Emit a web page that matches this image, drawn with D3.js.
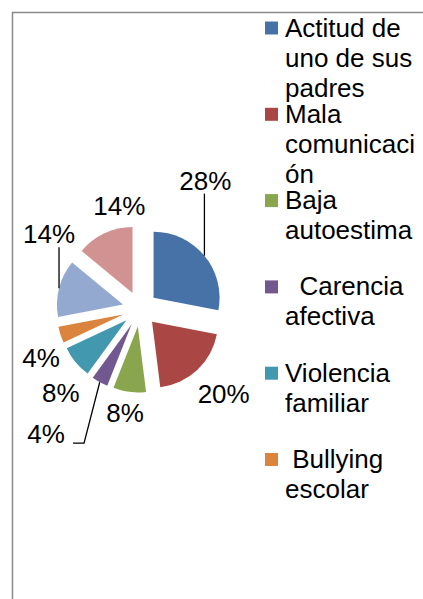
<!DOCTYPE html>
<html>
<head>
<meta charset="utf-8" />
<title>Causas</title>
<style>
body { margin: 0; background: #fff; }
text { font-family: "Liberation Sans", Arial, sans-serif; font-size: 26px; fill: #000; }
.leader { fill: none; stroke: #000; stroke-width: 1.3px; }
</style>
</head>
<body>
<script src="https://cdn.jsdelivr.net/npm/d3@7"></script>
<script>
// data
var categories = ["Actitud de uno de sus padres", "Mala comunicación", "Baja autoestima",
                  "Carencia afectiva", "Violencia familiar", "Bullying escolar", "Otros 1", "Otros 2"];
var values = [28, 20, 8, 4, 8, 4, 14, 14];
var labels = ["28%", "20%", "8%", "4%", "8%", "4%", "14%", "14%"];
var colors = ["#4672a8", "#aa4643", "#89a54e", "#71588f", "#4198af", "#db843d", "#93a9cf", "#d19392"];
// legend text as wrapped in the picture (only six entries fit)
var legendLines = [
    ["Actitud de", "uno de sus", "padres"],
    ["Mala", "comunicaci", "ón"],
    ["Baja", "autoestima"],
    ["  Carencia", "afectiva"],
    ["Violencia", "familiar"],
    [" Bullying", "escolar"]
];

var width = 423, height = 599;
var cx = 140, cy = 309, radius = 66, explode = 17.6, labelR = 112;

var svg = d3.select("body").append("svg")
    .attr("width", width)
    .attr("height", height);

// chart area border (right and bottom fall outside the picture)
svg.append("rect")
    .attr("x", 12.5).attr("y", 12.5)
    .attr("width", 440).attr("height", 620)
    .attr("fill", "none")
    .attr("stroke", "#8a8a8a")
    .attr("stroke-width", 1.5);

var pie = d3.pie().sort(null).value(function(d) { return d; });
var arcs = pie(values);
var arc = d3.arc().innerRadius(0).outerRadius(radius);

function mid(d) { return (d.startAngle + d.endAngle) / 2; }
function offset(d, r) {
    var a = mid(d);
    return [Math.sin(a) * r, -Math.cos(a) * r];
}

var slices = svg.append("g")
    .attr("transform", "translate(" + cx + "," + cy + ")");

slices.selectAll("path")
    .data(arcs)
  .enter().append("path")
    .attr("d", arc)
    .attr("fill", function(d, i) { return colors[i]; })
    .attr("transform", function(d) {
        var o = offset(d, explode);
        return "translate(" + o[0] + "," + o[1] + ")";
    });

// Excel moved some labels around; nudges from the default spot
var nudge = [[-21, -57], [7, 3], [-1, -7], [-40, 27], [7, 13], [7.5, 14], [17.5, -47], [27, -2]];

arcs.forEach(function(d, i) {
    var o = offset(d, labelR);
    var lx = o[0] + nudge[i][0], ly = o[1] + nudge[i][1];
    slices.append("text")
        .attr("x", lx).attr("y", ly)
        .attr("dy", "0.35em")
        .attr("text-anchor", "middle")
        .text(labels[i]);

    // point on the exploded slice edge, at mid angle
    var e = offset(d, explode), p = offset(d, radius);
    var px = e[0] + p[0], py = e[1] + p[1];
    if (i === 0 || i === 6) {
        slices.append("path").attr("class", "leader")
            .attr("d", "M" + px + "," + (ly + 13) + "L" + px + "," + py);
    } else if (i === 3) {
        slices.append("path").attr("class", "leader")
            .attr("d", "M" + (lx + 27) + "," + (ly + 9) + "L" + (lx + 38) + "," + (ly + 9) + "L" + px + "," + py);
    }
});

// legend
var legendX = 265, firstBase = 36.5, entryStep = 86.3, lineStep = 30;
var legend = svg.append("g");
legendLines.forEach(function(lines, i) {
    var base = firstBase + i * entryStep;
    legend.append("rect")
        .attr("x", legendX).attr("y", base - 15)
        .attr("width", 13).attr("height", 13)
        .attr("fill", colors[i]);
    var t = legend.append("text")
        .attr("x", legendX + 20).attr("y", base)
        .attr("xml:space", "preserve")
        .style("white-space", "pre");
    lines.forEach(function(s, j) {
        t.append("tspan")
            .attr("x", legendX + 20)
            .attr("y", base + j * lineStep)
            .text(s);
    });
});
</script>
</body>
</html>
